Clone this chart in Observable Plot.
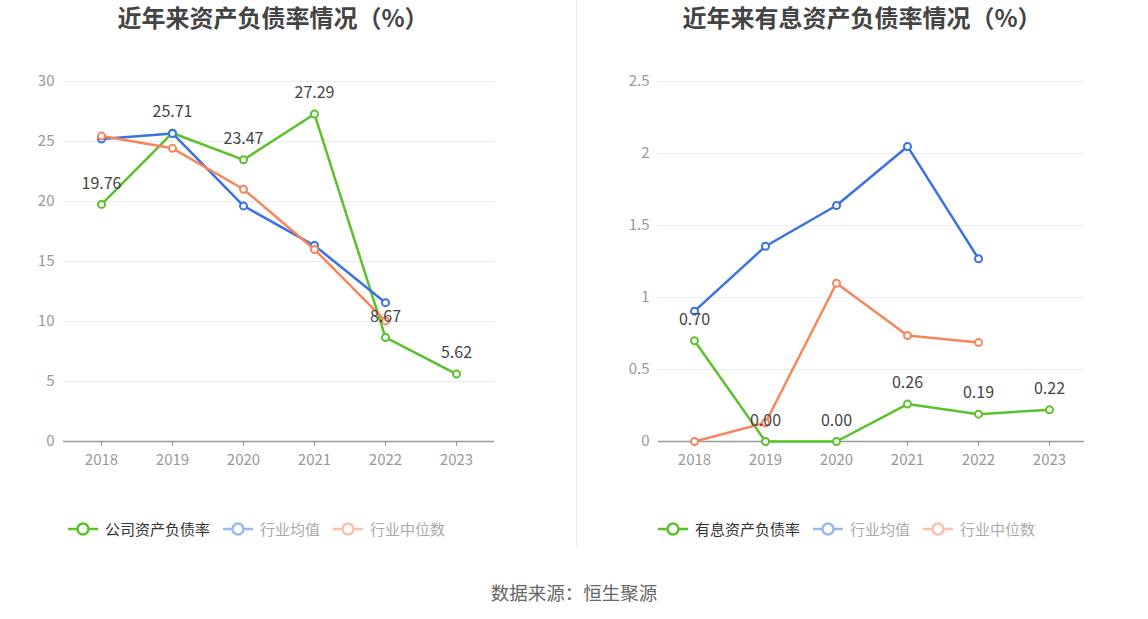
<!DOCTYPE html>
<html>
<head>
<meta charset="utf-8">
<script src="https://cdn.jsdelivr.net/npm/d3@7"></script>
<script src="https://cdn.jsdelivr.net/npm/@observablehq/plot@0.6"></script>
<style>
  html, body { margin: 0; padding: 0; background: #fff; }
  body { width: 1148px; height: 619px; position: relative; overflow: hidden;
         font-family: "Noto Sans CJK SC", "Noto Sans", sans-serif; }
  .title { position: absolute; top: 2px; font-size: 24px; font-weight: bold; color: #444;
           text-align: center; white-space: nowrap; line-height: 30px; }
  .chart { position: absolute; top: 0; }
  .legend { position: absolute; top: 518px; display: flex; align-items: center; white-space: nowrap;
            font-size: 15px; line-height: 22px; }
  .legend .item { display: flex; align-items: center; margin-right: 13px; }
  .legend svg { margin-right: 7px; }
  .caption { position: absolute; top: 579px; left: 0; width: 1148px; text-align: center;
             font-size: 18.5px; color: #666; line-height: 26px; }
  .divider { position: absolute; left: 576px; top: 0; width: 1px; height: 548px; background: #eeeeee; }
</style>
</head>
<body>
<div class="divider"></div>
<div id="root"></div>
<script>
// ---- data ----
const years = ["2018", "2019", "2020", "2021", "2022", "2023"];

const leftTitle = "近年来资产负债率情况（%）";
const leftNames = ["公司资产负债率", "行业均值", "行业中位数"];
const leftCompany = [19.76, 25.71, 23.47, 27.29, 8.67, 5.62];
const leftAvg = [25.2, 25.67, 19.63, 16.33, 11.57, null];
const leftMedian = [25.45, 24.43, 21.02, 16.0, 10.05, null];
const leftTicks = [0, 5, 10, 15, 20, 25, 30];

const rightTitle = "近年来有息资产负债率情况（%）";
const rightNames = ["有息资产负债率", "行业均值", "行业中位数"];
const rightCompany = [0.70, 0.00, 0.00, 0.26, 0.19, 0.22];
const rightAvg = [0.905, 1.356, 1.639, 2.049, 1.269, null];
const rightMedian = [0.0, 0.13, 1.099, 0.736, 0.688, null];
const rightTicks = [0, 0.5, 1, 1.5, 2, 2.5];

const caption = "数据来源：恒生聚源";

const colors = ["#5ac12b", "#3a72e2", "#f8855a"];

// ---- drawing ----
const FONT = '"Noto Sans CJK SC", "Noto Sans", sans-serif';

function rows(arr) {
  return years.map((y, i) => ({year: y, value: arr[i]})).filter(d => d.value != null);
}

function chart({company, avg, median, ticks, marginLeft, marginRight}) {
  const c = rows(company), a = rows(avg), m = rows(median);
  const yMax = ticks[ticks.length - 1];
  const series = [[c, colors[0]], [a, colors[1]], [m, colors[2]]];
  const marks = [
    Plot.ruleY(ticks.filter(t => t > 0), {stroke: "#e6ebf5", strokeWidth: 1}),
    Plot.ruleY([0], {stroke: "#999", strokeWidth: 1.5})
  ];
  for (const [d, col] of series) {
    marks.push(Plot.line(d, {x: "year", y: "value", stroke: col, strokeWidth: 2.5}));
    marks.push(Plot.dot(d, {x: "year", y: "value", r: 3.5, fill: "white", stroke: col, strokeWidth: 2}));
  }
  marks.push(Plot.text(c, {x: "year", y: "value", text: d => d.value.toFixed(2), dy: -21,
    fontSize: 16, fill: "#444"}));
  return Plot.plot({
    width: 574, height: 480,
    marginTop: 81, marginBottom: 39, marginLeft, marginRight,
    style: {fontFamily: FONT, fontSize: "15px", color: "#999", background: "transparent", overflow: "visible"},
    x: {type: "point", domain: years, padding: 0.5, tickSize: 5, tickPadding: 8, label: null},
    y: {domain: [0, yMax], ticks: ticks, tickSize: 0, tickPadding: 9, label: null, tickFormat: d => String(d)},
    marks
  });
}

function legend(names, left) {
  const div = document.createElement("div");
  div.className = "legend";
  div.style.left = left + "px";
  names.forEach((n, i) => {
    const item = document.createElement("div");
    item.className = "item";
    const faded = i > 0;
    item.innerHTML =
      `<svg width="30" height="14" style="opacity:${faded ? 0.5 : 1}">
         <line x1="0" x2="30" y1="7" y2="7" stroke="${colors[i]}" stroke-width="2.5"/>
         <circle cx="15" cy="7" r="5.5" fill="white" stroke="${colors[i]}" stroke-width="2.5"/>
       </svg><span style="color:${faded ? '#aaa' : '#333'}">${n}</span>`;
    div.appendChild(item);
  });
  return div;
}

function title(text, center) {
  const d = document.createElement("div");
  d.className = "title";
  d.textContent = text;
  d.style.left = (center - 300) + "px";
  d.style.width = "600px";
  return d;
}

const root = document.getElementById("root");

const left = chart({company: leftCompany, avg: leftAvg, median: leftMedian, ticks: leftTicks,
  marginLeft: 63, marginRight: 80});
left.classList.add("chart");
left.style.left = "0px";
root.appendChild(left);

const right = chart({company: rightCompany, avg: rightAvg, median: rightMedian, ticks: rightTicks,
  marginLeft: 84, marginRight: 64});
right.classList.add("chart");
right.style.left = "574px";
root.appendChild(right);

root.appendChild(title(leftTitle, 273));
root.appendChild(title(rightTitle, 862));
root.appendChild(legend(leftNames, 68));
root.appendChild(legend(rightNames, 658));

const cap = document.createElement("div");
cap.className = "caption";
cap.textContent = caption;
root.appendChild(cap);
</script>
</body>
</html>
